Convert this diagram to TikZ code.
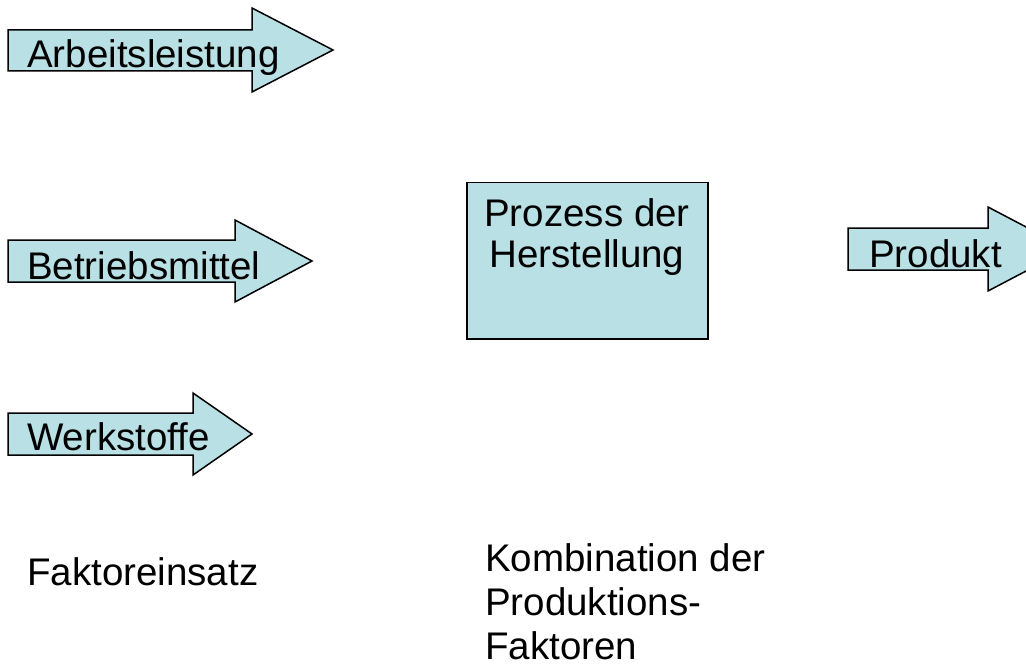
\documentclass[tikz,border=0pt]{standalone}
\usepackage{fontspec}
\setmainfont{Liberation Sans}
\definecolor{boxfill}{RGB}{185,224,228}
\begin{document}
\begin{tikzpicture}[x=1pt,y=-1pt,
  block/.style={draw=black,line width=1.5pt,fill=boxfill,line join=miter},
  lbl/.style={inner sep=0pt,anchor=base west,font=\fontsize{38.5}{43}\selectfont}]
\useasboundingbox (0,0) rectangle (1026,666);
\begin{scope}
\clip (0,0) rectangle (1026,666);
% input arrows
\draw[block] (8,30) -- (252,30) -- (252,8) -- (333,50) -- (252,92) -- (252,71) -- (8,71) -- cycle;
\draw[block] (8,240) -- (235,240) -- (235,220) -- (312,261) -- (235,302) -- (235,282) -- (8,282) -- cycle;
\draw[block] (8,413) -- (193,413) -- (193,393) -- (252,434) -- (193,475) -- (193,455) -- (8,455) -- cycle;
% output arrow
\draw[block] (848,228) -- (988,228) -- (988,207) -- (1068,249) -- (988,291) -- (988,270) -- (848,270) -- cycle;
\end{scope}
% process box
\node[block,minimum width=241pt,minimum height=156pt,inner sep=0pt,anchor=north west] (proc) at (466,182) {};
% base anchor of a multi-line node sits on its last line
\node[inner sep=0pt,anchor=base,align=center,font=\fontsize{38.5}{41}\selectfont] (proctxt) at (587,267) {Prozess der\\Herstellung};
% arrow labels
\node[lbl] (arbeit) at (27,68) {Arbeitsleistung};
\node[lbl] (betrieb) at (27,279) {Betriebsmittel};
\node[lbl] (werk) at (27,450) {Werkstoffe};
\node[lbl] (prod) at (869,267) {Produkt};
% captions
\node[lbl] (faktor) at (27,585) {Faktoreinsatz};
\node[inner sep=0pt,anchor=base west,align=left,font=\fontsize{38.5}{44}\selectfont] (komb) at (485,659) {Kombination der\\Produktions-\\Faktoren};
\end{tikzpicture}
\end{document}
